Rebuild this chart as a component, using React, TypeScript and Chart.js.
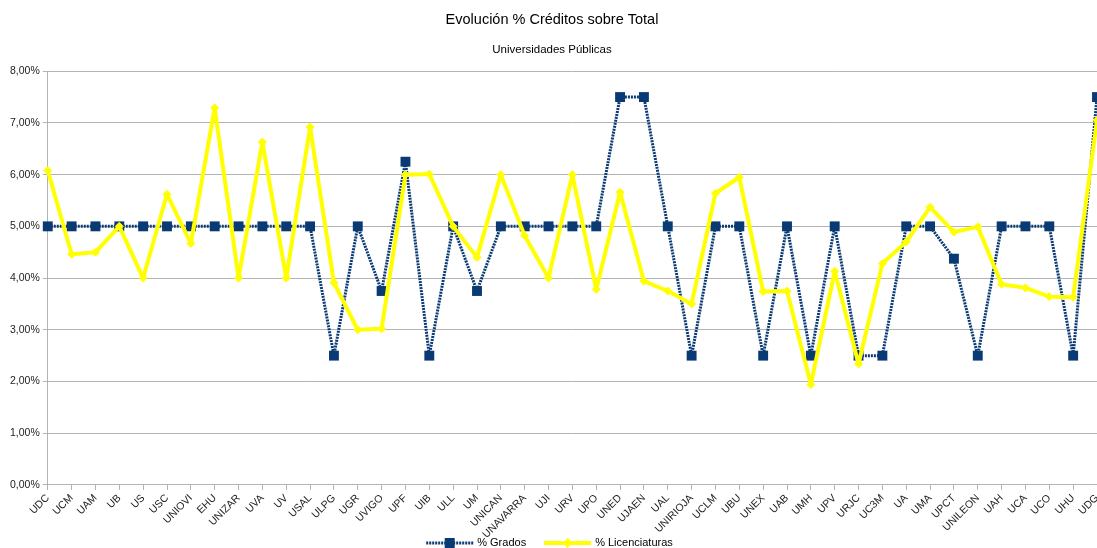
import React, { useEffect, useRef } from "react";
import { Chart, registerables } from "chart.js";

Chart.register(...registerables);

const TITLE = "Evolución % Créditos sobre Total";
const SUBTITLE = "Universidades Públicas";

const categories = [
  "UDC", "UCM", "UAM", "UB", "US", "USC", "UNIOVI", "EHU", "UNIZAR", "UVA", "UV", "USAL",
  "ULPG", "UGR", "UVIGO", "UPF", "UIB", "ULL", "UM", "UNICAN", "UNAVARRA", "UJI", "URV",
  "UPO", "UNED", "UJAEN", "UAL", "UNIRIOJA", "UCLM", "UBU", "UNEX", "UAB", "UMH", "UPV",
  "URJC", "UC3M", "UA", "UMA", "UPCT", "UNILEON", "UAH", "UCA", "UCO", "UHU", "UDG",
];

const grados = [
  5, 5, 5, 5, 5, 5, 5, 5, 5, 5, 5, 5,
  2.5, 5, 3.75, 6.25, 2.5, 5, 3.75, 5, 5, 5, 5,
  5, 7.5, 7.5, 5, 2.5, 5, 5, 2.5, 5, 2.5, 5,
  2.5, 2.5, 5, 5, 4.375, 2.5, 5, 5, 5, 2.5, 7.5,
];

const licenciaturas = [
  6.08, 4.46, 4.5, 5.0, 4.0, 5.62, 4.67, 7.29, 4.0, 6.63, 4.0, 6.92,
  3.91, 3.0, 3.02, 6.0, 6.01, 5.0, 4.4, 6.0, 4.82, 4.0, 6.0,
  3.78, 5.66, 3.94, 3.75, 3.5, 5.64, 5.95, 3.74, 3.75, 1.94, 4.13,
  2.34, 4.28, 4.7, 5.37, 4.89, 4.99, 3.88, 3.81, 3.64, 3.63, 7.05,
];

const yTicks = [0, 1, 2, 3, 4, 5, 6, 7, 8];

const NAVY = "#0a3a73";
const YELLOW = "#ffff00";
const GRID = "#b3b3b3";
const FONT = "'Liberation Sans', Arial, sans-serif";

const fmtPct = (v: number) => v.toFixed(2).replace(".", ",") + "%";

const legendPlugin = {
  id: "customLegend",
  afterDraw(chart: any) {
    const ctx = chart.ctx as CanvasRenderingContext2D;
    const ds = chart.data.datasets;
    ctx.save();
    ctx.font = `11px ${FONT}`;
    const sample = 47;
    const gapText = 4;
    const gapItem = 18;
    const w1 = ctx.measureText(ds[0].label).width;
    const w2 = ctx.measureText(ds[1].label).width;
    const total = sample + gapText + w1 + gapItem + sample + gapText + w2;
    const cy = 543;
    let x = 549.5 - total / 2;
    // Grados sample
    ctx.strokeStyle = NAVY;
    ctx.lineWidth = 3;
    ctx.setLineDash([2, 1]);
    ctx.beginPath();
    ctx.moveTo(x, cy);
    ctx.lineTo(x + sample, cy);
    ctx.stroke();
    ctx.setLineDash([]);
    ctx.fillStyle = NAVY;
    ctx.fillRect(x + sample / 2 - 5, cy - 5, 10, 10);
    x += sample + gapText;
    ctx.fillStyle = "#000";
    ctx.textBaseline = "middle";
    ctx.textAlign = "left";
    ctx.fillText(ds[0].label, x, cy);
    x += w1 + gapItem;
    // Licenciaturas sample
    ctx.strokeStyle = YELLOW;
    ctx.lineWidth = 4;
    ctx.beginPath();
    ctx.moveTo(x, cy);
    ctx.lineTo(x + sample, cy);
    ctx.stroke();
    ctx.fillStyle = YELLOW;
    const mx = x + sample / 2;
    ctx.beginPath();
    ctx.moveTo(mx - 5, cy);
    ctx.lineTo(mx, cy - 5);
    ctx.lineTo(mx + 5, cy);
    ctx.lineTo(mx, cy + 5);
    ctx.closePath();
    ctx.fill();
    x += sample + gapText;
    ctx.fillStyle = "#000";
    ctx.fillText(ds[1].label, x, cy);
    ctx.restore();
  },
};

export default function App() {
  const ref = useRef<HTMLCanvasElement | null>(null);

  useEffect(() => {
    if (!ref.current) return;
    Chart.defaults.font.family = FONT;
    const chart = new Chart(ref.current, {
      type: "line",
      data: {
        labels: categories,
        datasets: [
          {
            label: "% Grados",
            data: grados,
            borderColor: NAVY,
            backgroundColor: NAVY,
            borderWidth: 3,
            borderDash: [2, 1],
            borderJoinStyle: "round",
            pointStyle: "rect",
            pointRadius: 7,
            pointHoverRadius: 7,
            pointBorderWidth: 0,
            pointBackgroundColor: NAVY,
            tension: 0,
            order: 1,
            clip: false as any,
          },
          {
            label: "% Licenciaturas",
            data: licenciaturas,
            borderColor: YELLOW,
            backgroundColor: YELLOW,
            borderWidth: 4,
            borderJoinStyle: "round",
            pointStyle: "rectRot",
            pointRadius: 4,
            pointHoverRadius: 4,
            pointBorderWidth: 1,
            pointBorderColor: YELLOW,
            pointBackgroundColor: YELLOW,
            tension: 0,
            order: 0,
            clip: false as any,
          },
        ],
      },
      options: {
        responsive: false,
        animation: false,
        events: [],
        layout: { padding: { left: 7, right: 17, top: 0, bottom: 5 } },
        plugins: {
          title: {
            display: true,
            text: TITLE,
            color: "#000",
            font: { size: 14.5, weight: "normal" as any, family: FONT },
            padding: { top: 11, bottom: 8 },
          },
          subtitle: {
            display: true,
            text: SUBTITLE,
            color: "#000",
            font: { size: 11.5, weight: "normal" as any, family: FONT },
            padding: { top: 7, bottom: 14 },
          },
          legend: { display: false },
          tooltip: { enabled: false },
        },
        scales: {
          x: {
            grid: { drawOnChartArea: false, color: GRID, tickLength: 5 },
            border: { color: GRID },
            ticks: {
              autoSkip: false,
              maxRotation: 45,
              minRotation: 45,
              color: "#222",
              font: { size: 10.5, family: FONT },
              padding: 2,
            },
          },
          y: {
            min: yTicks[0],
            max: yTicks[yTicks.length - 1],
            afterBuildTicks: (axis: any) => {
              axis.ticks = yTicks.map((v) => ({ value: v }));
            },
            grid: { color: GRID, tickLength: 5 },
            border: { color: GRID },
            ticks: {
              color: "#222",
              font: { size: 10.5, family: FONT },
              padding: 3,
              callback: (v: any) => fmtPct(Number(v)),
            },
          },
        },
      },
      plugins: [legendPlugin],
    });
    return () => chart.destroy();
  }, []);

  return (
    <div
      style={{
        position: "fixed",
        left: 0,
        top: 0,
        width: 1097,
        height: 548,
        overflow: "hidden",
        background: "#fff",
      }}
    >
      <canvas ref={ref} width={1114} height={548} style={{ display: "block" }} />
    </div>
  );
}
